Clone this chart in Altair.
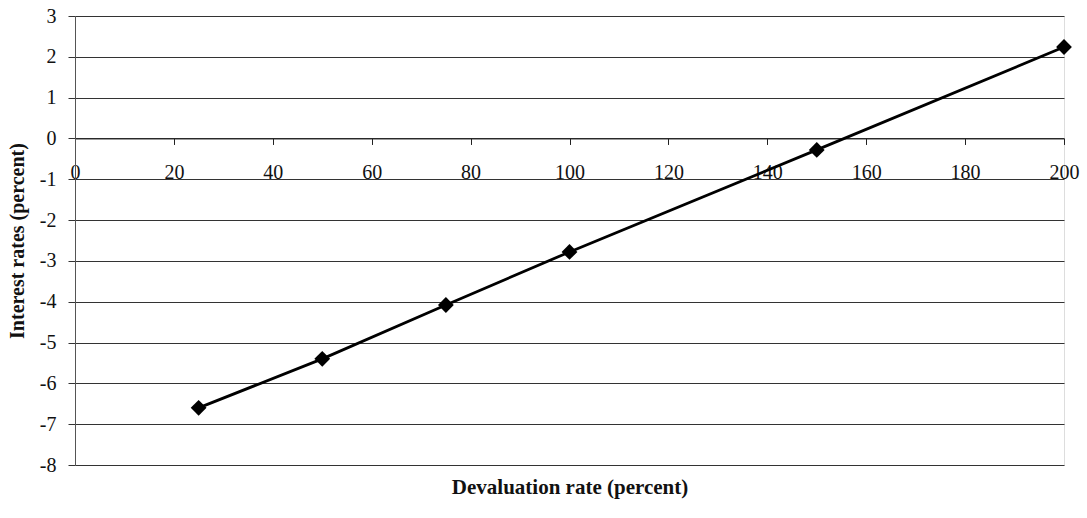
import altair as alt
import pandas as pd

devaluation = [25, 50, 75, 100, 150, 200]
interest = [-6.6, -5.4, -4.08, -2.78, -0.28, 2.24]
x_ticks = [0, 20, 40, 60, 80, 100, 120, 140, 160, 180, 200]
y_ticks = [3, 2, 1, 0, -1, -2, -3, -4, -5, -6, -7, -8]

df = pd.DataFrame({"dev": devaluation, "rate": interest})

W, H = 989, 449
FONT = "Liberation Serif"
y_dom = [-8, 3]
zero_offset = -(H - H * (3 / 11))  # move x axis up to y=0

x_enc = alt.X(
    "dev:Q",
    scale=alt.Scale(domain=[0, 200], nice=False, zero=False),
    axis=alt.Axis(
        values=x_ticks, offset=zero_offset, grid=False, domain=True,
        domainColor="#222", tickColor="#222", tickSize=6, labelPadding=18,
        labelFont=FONT, labelFontSize=20, labelColor="#111",
        labelFlush=False, labelBound=False, labelOverlap=False,
        title="Devaluation rate (percent)", titleFont=FONT, titleFontSize=21,
        titleFontWeight="bold", titleColor="#111", titleY=H * 8 / 11 + 22,
        titleBaseline="middle",
    ),
)
y_enc = alt.Y(
    "rate:Q",
    scale=alt.Scale(domain=y_dom, nice=False, zero=False),
    axis=alt.Axis(
        values=y_ticks, grid=True, gridColor="#333", gridWidth=1,
        domain=True, domainColor="#555", tickColor="#333", tickSize=7,
        labelPadding=12, labelFont=FONT, labelFontSize=20, labelColor="#111",
        labelFlush=False, labelExpr="'' + datum.value",
        title="Interest rates (percent)", titleFont=FONT, titleFontSize=20,
        titleFontWeight="bold", titleColor="#111", titlePadding=12,
    ),
)

line = alt.Chart(df).mark_line(color="black", strokeWidth=2.8).encode(x=x_enc, y=y_enc)
pts = alt.Chart(df).mark_point(
    shape="diamond", filled=True, color="black", size=250, opacity=1
).encode(x="dev:Q", y="rate:Q")

chart = (
    alt.layer(line, pts)
    .properties(
        width=W, height=H,
        autosize=alt.AutoSizeParams(type="none"),
        padding={"left": 75, "top": 16, "right": 23, "bottom": 53},
    )
    .configure_view(stroke="#777", strokeWidth=1.5)
    .configure(background="white")
)

chart.save("out.html", embed_options={"renderer": "svg", "actions": False})
